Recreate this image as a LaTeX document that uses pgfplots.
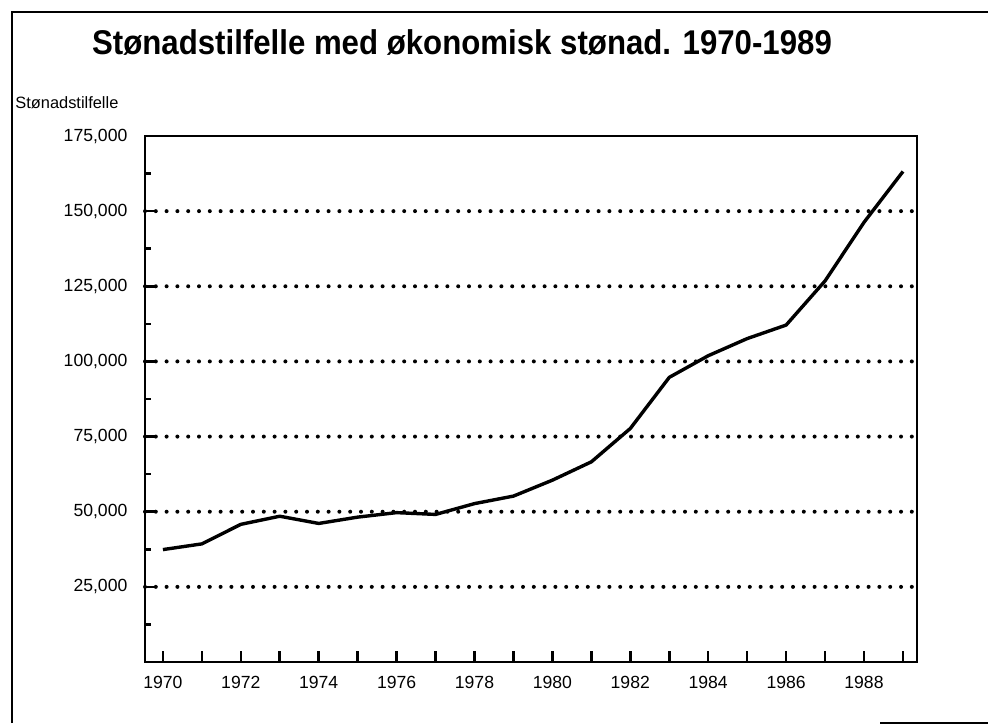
\documentclass[border=0pt]{standalone}
\usepackage{pgfplots}
\pgfplotsset{compat=1.18}
\usepackage{fontspec}
\setmainfont{Liberation Sans}
\begin{document}
\begin{tikzpicture}[x=1pt,y=1pt]
\path[use as bounding box] (0,0) rectangle (494,362);
\draw[line width=1pt] (6,0.5) -- (6,356) -- (494,356);
\draw[line width=1pt] (440,0.5) -- (494,0.5);
\node[font=\fontsize{15.6}{18}\selectfont\bfseries] at (231,340.5) {\scalebox{1}[1.1]{Stønadstilfelle med økonomisk stønad. 1970-1989}};
\node[anchor=west,font=\fontsize{8.2}{10}\selectfont,inner sep=0pt] at (7.5,310.5) {Stønadstilfelle};
\begin{axis}[
  at={(72.5pt,31pt)}, anchor=south west,
  width=386pt, height=263pt, scale only axis,
  xmin=1969.54, xmax=1989.36, ymin=0, ymax=175000,
  axis line style={line width=1.3pt},
  xtick={1970,...,1989},
  xticklabels={1970,,1972,,1974,,1976,,1978,,1980,,1982,,1984,,1986,,1988,},
  ytick={25000,50000,75000,100000,125000,150000},
  extra y ticks={175000},
  extra y tick style={grid=none},
  /pgf/number format/fixed,
  /pgf/number format/1000 sep={,},
  /pgf/number format/assume math mode=true,
  minor ytick={12500,37500,62500,87500,112500,137500,162500},
  tick align=inside,
  major tick length=5.5pt, minor tick length=3pt,
  tick style={line width=1.3pt,black},
  xtick pos=bottom, ytick pos=left,
  ymajorgrids,
  major grid style={black,line width=2pt,line cap=round,dash pattern=on 0pt off 5.4pt},
  ticklabel style={font=\fontsize{8.8}{10}\selectfont},
  yticklabel style={xshift=-5.3pt},
  xticklabel style={yshift=-3.5pt},
  scaled ticks=false,
  clip=false,
]
\addplot[black, line width=1.7pt, line join=round] coordinates {
(1970,37400) (1971,39300) (1972,45800) (1973,48500) (1974,46100)
(1975,48200) (1976,49700) (1977,49100) (1978,52700) (1979,55200)
(1980,60500) (1981,66600) (1982,77700) (1983,94700) (1984,101900)
(1985,107600) (1986,112100) (1987,126800) (1988,146300) (1989,163200)
};
\end{axis}
\end{tikzpicture}
\end{document}
